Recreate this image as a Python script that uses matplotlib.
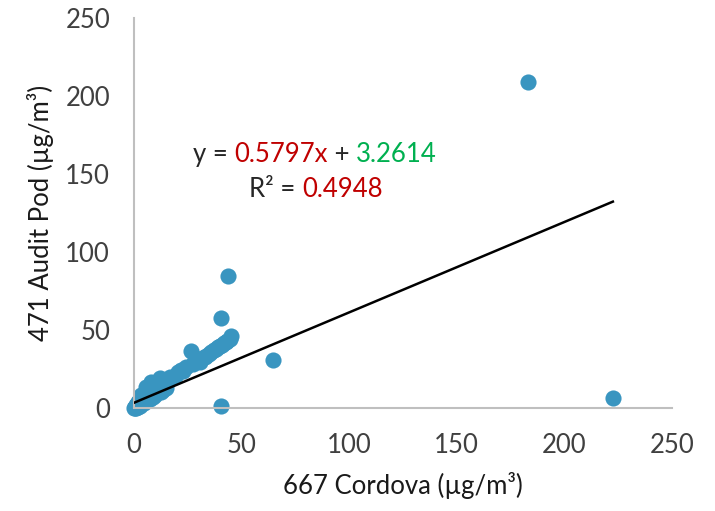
import matplotlib.pyplot as plt

# Paired PM readings (µg/m³): Cordova monitor vs audit pod
cordova = [0.3, 0.6, 0.9, 1.2, 1.5, 1.8, 2.1, 2.5, 2.9, 3.3, 3.6, 4.0, 4.5, 5.0, 5.5,
           5.9, 6.4, 7.0, 7.5, 8.2, 8.8, 9.0, 9.6, 10.3, 11.0, 11.8, 12.1, 12.8, 13.6,
           14.5, 15.5, 16.7, 18.0, 19.5, 20.8, 21.8, 23.0, 24.5, 26.5, 27.5, 28.3,
           29.5, 30.7, 31.8, 32.9, 33.8, 35.0, 36.1, 37.2, 38.3, 39.2, 40.0, 41.0,
           42.0, 42.8, 43.5, 44.5, 45.4, 40.7, 43.8, 40.7, 64.7, 183.0, 222.5,
           3.0, 5.0, 7.5, 10.0, 12.5, 15.0, 0.5, 1.0, 2.0]
audit_pod = [0.2, 0.8, 1.5, 1.9, 2.6, 3.5, 4.0, 4.6, 5.5, 6.2, 8.3, 7.0, 8.0, 9.0, 10.0,
             13.7, 11.0, 12.0, 12.5, 16.9, 13.0, 7.2, 14.0, 15.0, 16.0, 17.0, 19.0,
             15.5, 11.5, 17.5, 18.0, 20.1, 19.5, 21.0, 23.0, 24.4, 23.5, 26.0, 36.5,
             28.5, 30.8, 31.0, 29.7, 32.0, 32.9, 33.5, 34.5, 36.1, 37.0, 38.0, 39.3,
             40.0, 40.5, 41.5, 42.5, 43.0, 44.5, 46.2, 57.9, 84.6, 1.3, 30.8, 209.0,
             6.5, 1.5, 3.0, 6.0, 8.0, 10.5, 13.0, 0.0, 0.3, 0.6]

slope = 0.5797
intercept = 3.2614
r_squared = 0.4948

plt.rcParams['font.family'] = ['Lato', 'DejaVu Sans']

fig = plt.figure(figsize=(7.15, 5.11), dpi=100)
ax = fig.add_axes([0.187, 0.2016, 0.753, 0.7634])

ax.scatter(cordova, audit_pod, s=135, color='#3995C0', zorder=2, linewidths=0, clip_on=False)

x_fit = [min(cordova), max(cordova)]
y_fit = [slope * x + intercept for x in x_fit]
ax.plot(x_fit, y_fit, color='black', linewidth=1.8, zorder=3)

fs = 18.5
ax.set_xlim(0, 250)
ax.set_ylim(0, 250)
ax.set_xticks(range(0, 251, 50))
ax.set_yticks(range(0, 251, 50))
ax.tick_params(length=0, labelsize=fs, labelcolor='#404040')
ax.tick_params(axis='y', pad=17)
ax.tick_params(axis='x', pad=18)
for side in ['top', 'right']:
    ax.spines[side].set_visible(False)
for side in ['left', 'bottom']:
    ax.spines[side].set_color('#BFBFBF')
    ax.spines[side].set_linewidth(1.5)

ax.set_xlabel('667 Cordova (µg/m³)', fontsize=fs, color='#1a1a1a', labelpad=10)
ax.set_ylabel('471 Audit Pod (µg/m³)', fontsize=fs, color='#1a1a1a', labelpad=8)

# trendline equation, coloured pieces
t1 = ax.text(0.11, 0.631, 'y = ', transform=ax.transAxes, fontsize=fs, color='#262626')
t2 = ax.annotate(f'{slope}x', xycoords=t1, xy=(1, 0), va='bottom', fontsize=fs, color='#C00000')
t3 = ax.annotate(' + ', xycoords=t2, xy=(1, 0), va='bottom', fontsize=fs, color='#262626')
t4 = ax.annotate(f'{intercept}', xycoords=t3, xy=(1, 0), va='bottom', fontsize=fs, color='#00B050')
r1 = ax.text(0.214, 0.541, 'R² = ', transform=ax.transAxes, fontsize=fs, color='#262626')
r2 = ax.annotate(f'{r_squared}', xycoords=r1, xy=(1, 0), va='bottom', fontsize=fs, color='#C00000')

plt.savefig('out.png', dpi=100)
